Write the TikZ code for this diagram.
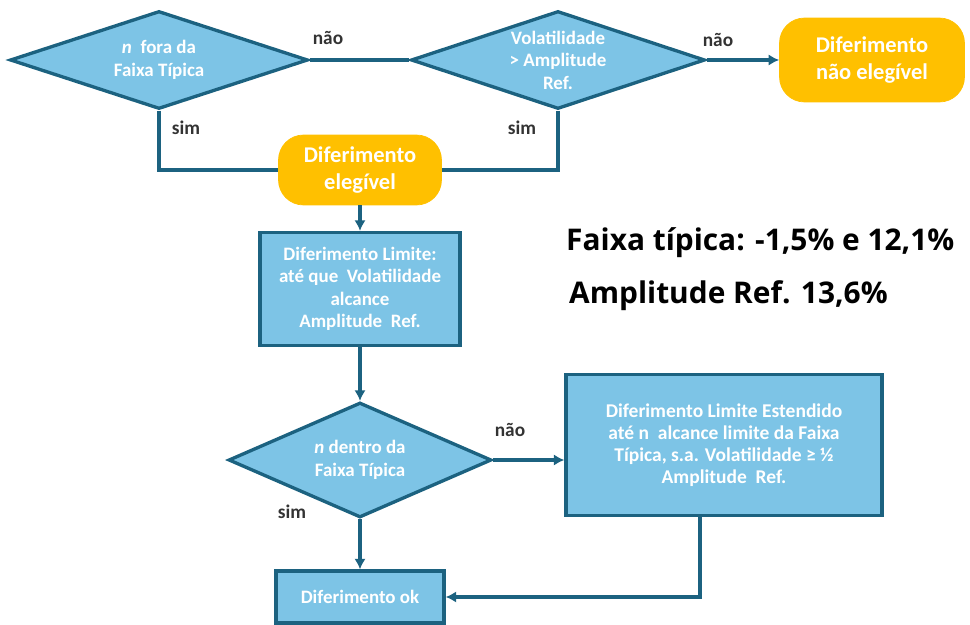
\documentclass[tikz,border=0pt]{standalone}
\usepackage{fontspec}
\setmainfont{Carlito}
\newfontfamily\bigfont{Open Sans}
\usetikzlibrary{shapes.geometric, arrows.meta}
\definecolor{boxblue}{RGB}{125,196,230}
\definecolor{lineblue}{RGB}{28,98,128}
\definecolor{gold}{RGB}{255,192,0}
\tikzset{
  decision/.style={diamond, draw=lineblue, fill=boxblue, line width=1.9pt, inner sep=0pt},
  process/.style={rectangle, draw=lineblue, fill=boxblue, line width=1.9pt},
  terminal/.style={rectangle, rounded corners=0.5cm, fill=gold, draw=gold},
  boxtext/.style={text=white, align=center, font=\bfseries\fontsize{10.8}{12.8}\selectfont},
  goldtext/.style={text=white, align=center, font=\bfseries\fontsize{12.8}{15.5}\selectfont},
  answer/.style={text=black!80, font=\bfseries\fontsize{11}{13}\selectfont},
  conn/.style={draw=lineblue, line width=1.9pt, >={Latex[length=6pt,width=6.5pt]}}
}
\begin{document}
\begin{tikzpicture}[x=0.02cm, y=-0.02cm]
  \useasboundingbox (0,0) rectangle (970,625);
  % top row
  \node[decision, minimum width=5.96cm, minimum height=1.96cm,
        label={[boxtext]center:{\textit{n}\ \ fora da\\Faixa Típica}}] (d1) at (159,60) {};
  \node[decision, minimum width=5.88cm, minimum height=1.96cm,
        label={[boxtext]center:{Volatilidade\\> Amplitude\\Ref.}}] (d2) at (558,60) {};
  \node[terminal, goldtext, minimum width=3.7cm, minimum height=1.68cm] (naoeleg) at (872,60) {Diferimento\\não elegível};
  \node[terminal, goldtext, minimum width=3.26cm, minimum height=1.4cm] (eleg) at (360,170) {Diferimento\\elegível};
  % middle column
  \node[process, boxtext, minimum width=4cm, minimum height=2.26cm] (limite) at (360,289) {Diferimento Limite:\\até que\ \ Volatilidade\\alcance\\Amplitude\ \ Ref.};
  \node[decision, minimum width=5.26cm, minimum height=2.3cm,
        label={[boxtext]center:{\textit{n} dentro da\\Faixa Típica}}] (d3) at (360,460) {};
  \node[process, boxtext, font=\bfseries\fontsize{11.1}{12.6}\selectfont, minimum width=6.32cm, minimum height=2.82cm] (estendido) at (724,445) {Diferimento Limite Estendido\\até n\ \ alcance\ limite da Faixa\\Típica, s.a. Volatilidade ≥ ½\\Amplitude\ \ Ref.};
  \node[process, boxtext, minimum width=3.36cm, minimum height=1.04cm] (ok) at (360,597) {Diferimento ok};
  % notes
  \node[anchor=west, font=\bigfont\bfseries\fontsize{17}{20}\selectfont] (faixa) at (560,243) {Faixa típica: -1,5\% e 12,1\%};
  \node[anchor=west, font=\bigfont\bfseries\fontsize{17}{20}\selectfont] (amplitude) at (563,296) {Amplitude Ref. 13,6\%};
  % connectors
  \path[conn] (d1.east) -- (d2.west);
  \path[conn, ->] (d2.east) -- (naoeleg.west);
  \path[conn] (d1.south) |- (eleg.west);
  \path[conn] (d2.south) |- (eleg.east);
  \path[conn, ->] (eleg.south) -- (limite.north);
  \path[conn, ->] (limite.south) -- (d3.north);
  \path[conn, ->] (d3.east) -- (d3.east -| estendido.west);
  \path[conn, ->] (d3.south) -- (ok.north);
  \path[conn, ->] ([xshift=-0.48cm]estendido.south) |- (ok.east);
  % answers
  \node[answer] (nao1) at (328,38) {não};
  \node[answer] (nao2) at (718,40) {não};
  \node[answer] (sim1) at (186,128) {sim};
  \node[answer] (sim2) at (522,128) {sim};
  \node[answer] (nao3) at (510,430) {não};
  \node[answer] (sim3) at (292,512) {sim};
\end{tikzpicture}
\end{document}
